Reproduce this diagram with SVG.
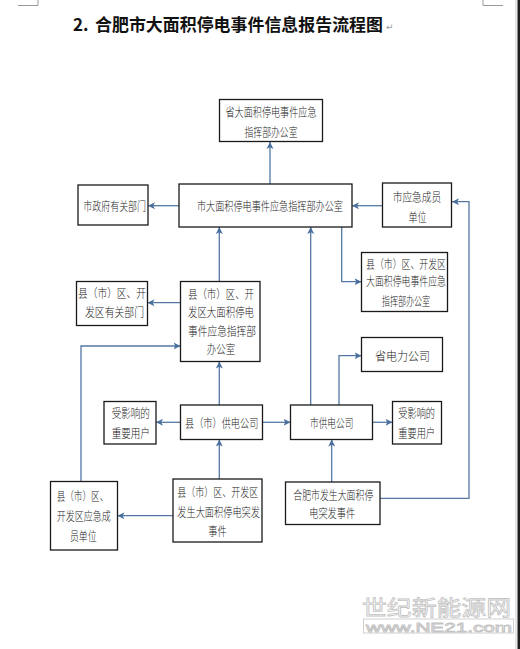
<svg xmlns="http://www.w3.org/2000/svg" width="520" height="649" viewBox="0 0 520 649">
<style>
.box{fill:#fff;stroke:#1a1a1a;stroke-width:1.3}
.t{font-family:"Noto Sans CJK SC","Noto Sans",sans-serif;font-size:12px;font-weight:300;fill:#222;text-anchor:middle;dominant-baseline:central}
.c{fill:none;stroke:#5478a3;stroke-width:1.3;marker-end:url(#ah)}
.title{font-family:"Noto Sans CJK SC","Noto Sans",sans-serif;font-size:17px;font-weight:700;fill:#111}
.wm{font-family:"Liberation Sans","Noto Sans CJK SC",sans-serif;fill:#fff;stroke:#c4c4c4;stroke-width:0.8}
</style>
<defs>
<marker id="ah" markerUnits="userSpaceOnUse" markerWidth="8" markerHeight="8" refX="7" refY="4" orient="auto">
<path d="M0,0.5 L7,4 L0,7.5 L1.8,4 z" fill="#4a6f9c"/>
</marker>
</defs>
<rect width="520" height="649" fill="#fff"/>
<g id="page-marks" fill="none" stroke="#9a9a9a" stroke-width="1">
<path d="M18,5.5 H38 V0"/>
<path d="M483,0 V5.5 H503"/>
</g>
<rect x="515" y="0" width="2" height="649" fill="#e6e6e6"/>
<rect x="517.5" y="0" width="2.5" height="649" fill="#1e1e1e"/>
<g id="title">
<text class="title" x="73" y="31">2.</text>
<text class="title" x="95" y="31" textLength="288" lengthAdjust="spacingAndGlyphs">合肥市大面积停电事件信息报告流程图</text>
<text x="386" y="30" font-family="DejaVu Sans,sans-serif" font-size="9" fill="#9a9a9a">↵</text>
</g>
<g id="connectors">
<path class="c" d="M270,184 V142"/>
<path class="c" d="M179,205.7 H148"/>
<path class="c" d="M382.5,205.7 H352"/>
<path class="c" d="M380,498.3 H469 V201.7 H452"/>
<path class="c" d="M219.3,281.5 V227"/>
<path class="c" d="M310.7,405 V227"/>
<path class="c" d="M341.7,227 V281.7 H361.5"/>
<path class="c" d="M180.5,302.7 H147.5"/>
<path class="c" d="M81,481.5 V346 H180.5"/>
<path class="c" d="M219.3,405 V361.5"/>
<path class="c" d="M339,405 V355.7 H361.5"/>
<path class="c" d="M180.5,422.3 H156"/>
<path class="c" d="M262.5,422.3 H290.5"/>
<path class="c" d="M372.5,422.3 H392.5"/>
<path class="c" d="M173,515.7 H117.5"/>
<path class="c" d="M219.3,479 V439.5"/>
<path class="c" d="M331.7,482 V439.5"/>
</g>
<g id="prov-hq">
<rect class="box" x="219.5" y="99.5" width="103" height="42"/>
<text class="t" x="271" y="111.7" textLength="91" lengthAdjust="spacingAndGlyphs">省大面积停电事件应急</text>
<text class="t" x="271" y="131.7" textLength="53" lengthAdjust="spacingAndGlyphs">指挥部办公室</text>
</g>
<g id="city-hq">
<rect class="box" x="179" y="184" width="173" height="43"/>
<text class="t" x="270" y="205.7" textLength="146" lengthAdjust="spacingAndGlyphs">市大面积停电事件应急指挥部办公室</text>
</g>
<g id="city-gov">
<rect class="box" x="78" y="185" width="70" height="40"/>
<text class="t" x="114.7" y="205.7" textLength="62.7" lengthAdjust="spacingAndGlyphs">市政府有关部门</text>
</g>
<g id="city-emerg">
<rect class="box" x="382.5" y="183" width="69" height="44"/>
<text class="t" x="417" y="196" textLength="48.7" lengthAdjust="spacingAndGlyphs">市应急成员</text>
<text class="t" x="417.5" y="216" textLength="18" lengthAdjust="spacingAndGlyphs">单位</text>
</g>
<g id="county-dist-hq">
<rect class="box" x="361.5" y="252.5" width="86" height="59"/>
<text class="t" x="406" y="263.3" textLength="80" lengthAdjust="spacingAndGlyphs">县（市）区、开发区</text>
<text class="t" x="406" y="280.7" textLength="80" lengthAdjust="spacingAndGlyphs">大面积停电事件应急</text>
<text class="t" x="406" y="300" textLength="48.3" lengthAdjust="spacingAndGlyphs">指挥部办公室</text>
</g>
<g id="county-dept">
<rect class="box" x="76.5" y="281.5" width="71" height="44"/>
<text class="t" x="112" y="292.7" textLength="68" lengthAdjust="spacingAndGlyphs">县（市）区、开</text>
<text class="t" x="114.5" y="311.7" textLength="59" lengthAdjust="spacingAndGlyphs">发区有关部门</text>
</g>
<g id="county-hq">
<rect class="box" x="180.5" y="281.5" width="79.5" height="80"/>
<text class="t" x="221" y="293.3" textLength="66" lengthAdjust="spacingAndGlyphs">县（市）区、开</text>
<text class="t" x="221" y="311.7" textLength="66" lengthAdjust="spacingAndGlyphs">发区大面积停电</text>
<text class="t" x="222" y="330" textLength="68" lengthAdjust="spacingAndGlyphs">事件应急指挥部</text>
<text class="t" x="221" y="348.3" textLength="28.3" lengthAdjust="spacingAndGlyphs">办公室</text>
</g>
<g id="prov-power">
<rect class="box" x="361.5" y="337.5" width="81" height="34"/>
<text class="t" x="402.5" y="355.7" textLength="55" lengthAdjust="spacingAndGlyphs">省电力公司</text>
</g>
<g id="users-left">
<rect class="box" x="104" y="401.5" width="52" height="42.5"/>
<text class="t" x="130.8" y="412.7" textLength="38.3" lengthAdjust="spacingAndGlyphs">受影响的</text>
<text class="t" x="130.8" y="432.7" textLength="38.3" lengthAdjust="spacingAndGlyphs">重要用户</text>
</g>
<g id="county-power">
<rect class="box" x="180.5" y="405" width="82" height="34.5"/>
<text class="t" x="221.7" y="422.3" textLength="73.3" lengthAdjust="spacingAndGlyphs">县（市）供电公司</text>
</g>
<g id="city-power">
<rect class="box" x="290.5" y="405" width="82" height="34.5"/>
<text class="t" x="331.7" y="422.3" textLength="43.3" lengthAdjust="spacingAndGlyphs">市供电公司</text>
</g>
<g id="users-right">
<rect class="box" x="392.5" y="401.5" width="49" height="42.5"/>
<text class="t" x="416.7" y="412.7" textLength="36.7" lengthAdjust="spacingAndGlyphs">受影响的</text>
<text class="t" x="416.7" y="432.7" textLength="36.7" lengthAdjust="spacingAndGlyphs">重要用户</text>
</g>
<g id="county-emerg">
<rect class="box" x="50.5" y="481.5" width="67" height="68.5"/>
<text class="t" x="82.5" y="495" textLength="51.7" lengthAdjust="spacingAndGlyphs">县（市）区、</text>
<text class="t" x="83.7" y="515.7" textLength="54" lengthAdjust="spacingAndGlyphs">开发区应急成</text>
<text class="t" x="83.3" y="535" textLength="26.7" lengthAdjust="spacingAndGlyphs">员单位</text>
</g>
<g id="county-event">
<rect class="box" x="173" y="479" width="89" height="63"/>
<text class="t" x="217.8" y="491.7" textLength="81" lengthAdjust="spacingAndGlyphs">县（市）区、开发区</text>
<text class="t" x="218.6" y="511.7" textLength="82.7" lengthAdjust="spacingAndGlyphs">发生大面积停电突发</text>
<text class="t" x="217.5" y="530" textLength="18.4" lengthAdjust="spacingAndGlyphs">事件</text>
</g>
<g id="city-event">
<rect class="box" x="285.5" y="482" width="94.5" height="42.5"/>
<text class="t" x="333.3" y="494" textLength="80" lengthAdjust="spacingAndGlyphs">合肥市发生大面积停</text>
<text class="t" x="332.2" y="512.7" textLength="45.7" lengthAdjust="spacingAndGlyphs">电突发事件</text>
</g>
<g id="watermark">
<text class="wm" x="362" y="614.5" font-size="21" textLength="149" lengthAdjust="spacingAndGlyphs">世纪新能源网</text>
<rect x="363.5" y="619" width="150" height="14" fill="none" stroke="#c4c4c4" stroke-width="0.8"/>
<text class="wm" x="366" y="631.5" font-size="12.5" textLength="146" lengthAdjust="spacingAndGlyphs">www.NE21.com</text>
</g>
</svg>
